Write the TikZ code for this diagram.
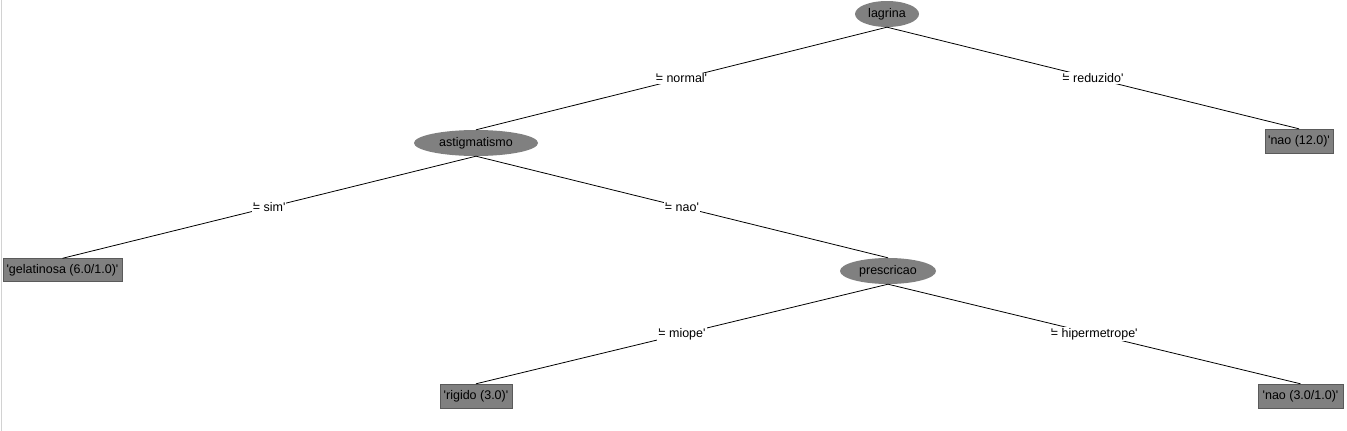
\documentclass[tikz,border=0pt]{standalone}
\usepackage{fontspec}
\setmainfont{Liberation Sans}[Ligatures=TeXOff]
\usetikzlibrary{shapes.geometric,positioning}
\definecolor{nodegray}{RGB}{128,128,128}
\definecolor{edgegray}{RGB}{90,90,90}
\tikzset{
  every node/.style={font=\fontsize{12.5}{14}\selectfont},
  attr/.style={ellipse,fill=nodegray,inner sep=0pt,minimum height=26pt},
  leaf/.style={rectangle,fill=nodegray,draw=edgegray,inner xsep=3pt,minimum height=24pt},
  branch/.style={fill=white,inner sep=1pt},
  treeline/.style={line width=0.8pt}
}
\begin{document}
\begin{tikzpicture}[x=1pt,y=-1pt]
\useasboundingbox (0,0) rectangle (1347,431);
\draw[gray!35] (1.5,0) -- (1.5,431);
% inner nodes
\node[attr,minimum width=64pt] (lagrina) at (887,14) {lagrina};
\node[attr,minimum width=124pt] (astig) at (476,143) {astigmatismo};
\node[attr,minimum width=96pt] (prescr) at (888,271) {prescricao};
% leaves
\node[leaf,minimum width=68pt] (nao12) at (1299,141) {'nao (12.0)'};
\node[leaf,minimum width=119pt,minimum height=23pt] (gelat) at (62.5,270) {'gelatinosa (6.0/1.0)'};
\node[leaf,minimum width=72pt] (rigido) at (476,396) {'rigido (3.0)'};
\node[leaf,minimum width=85pt] (nao31) at (1300.5,396) {'nao (3.0/1.0)'};
% edges
\draw[treeline] (lagrina.south) -- node[branch]{'\kern-.2em= normal'} (astig.north);
\draw[treeline] (lagrina.south) -- node[branch]{'\kern-.2em= reduzido'} (nao12.north);
\draw[treeline] (astig.south) -- node[branch]{'\kern-.2em= sim'} (gelat.north);
\draw[treeline] (astig.south) -- node[branch]{'\kern-.2em= nao'} (prescr.north);
\draw[treeline] (prescr.south) -- node[branch]{'\kern-.2em= miope'} (rigido.north);
\draw[treeline] (prescr.south) -- node[branch]{'\kern-.2em= hipermetrope'} (nao31.north);
\end{tikzpicture}
\end{document}
